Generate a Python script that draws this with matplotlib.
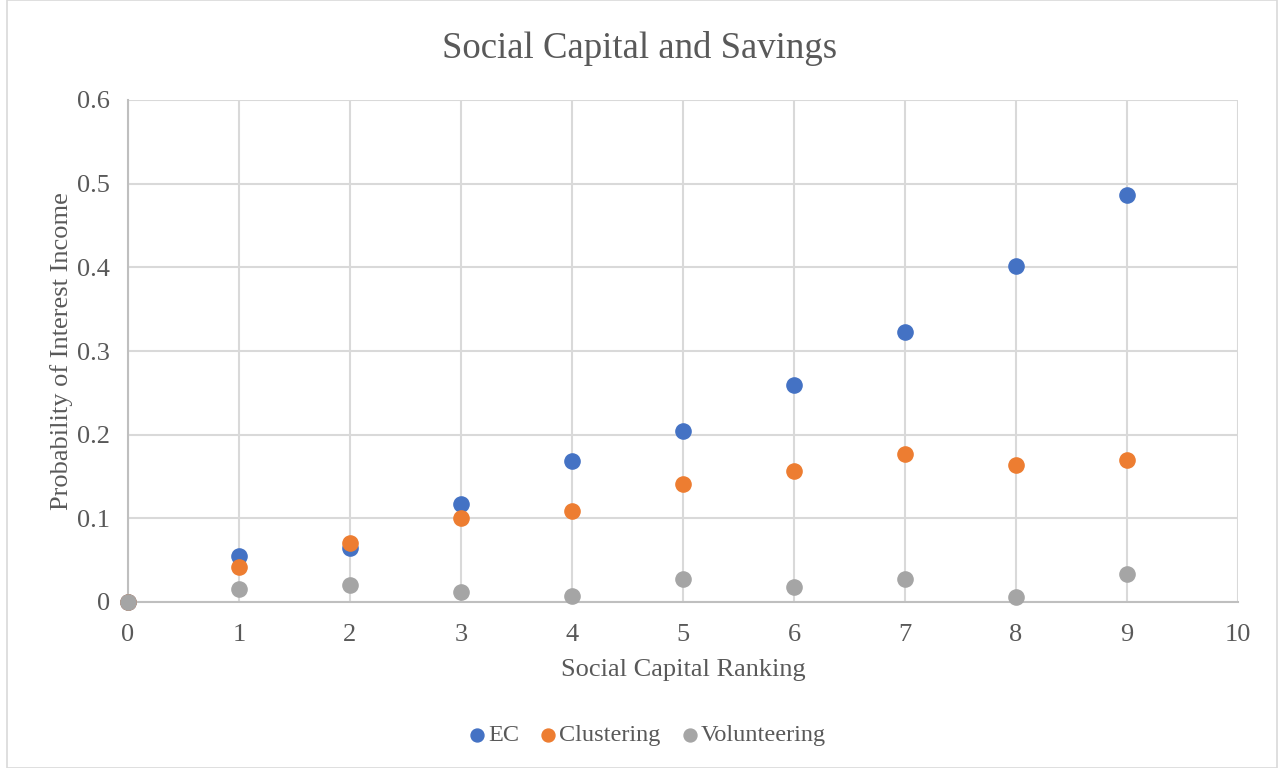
import matplotlib.pyplot as plt
from matplotlib.patches import Rectangle

plt.rcParams['font.family'] = ['Liberation Serif', 'DejaVu Serif']

# Social capital ranking (x) and probability of interest income per measure
ranking = [0, 1, 2, 3, 4, 5, 6, 7, 8, 9]
ec = [0, 0.055, 0.064, 0.117, 0.169, 0.204, 0.259, 0.323, 0.402, 0.486]
clustering = [0, 0.042, 0.071, 0.100, 0.109, 0.141, 0.157, 0.177, 0.164, 0.170]
volunteering = [0, 0.015, 0.020, 0.012, 0.007, 0.027, 0.018, 0.028, 0.006, 0.033]

fig = plt.figure(figsize=(12.79, 7.68), dpi=100)
ax = fig.add_axes([128 / 1279, 166 / 768, 1110 / 1279, 502 / 768])

# chart area border
fig.patches.append(Rectangle((7 / 1279, 0), 1270 / 1279, 1, transform=fig.transFigure,
                             fill=False, edgecolor='#d9d9d9', linewidth=1.2))

ax.scatter(ranking, ec, s=120, color='#4472c4', label='EC', zorder=3, clip_on=False)
ax.scatter(ranking, clustering, s=120, color='#ed7d31', label='Clustering', zorder=3, clip_on=False)
ax.scatter(ranking, volunteering, s=120, color='#a5a5a5', label='Volunteering', zorder=3, clip_on=False)

ax.set_xlim(0, 10)
ax.set_ylim(0, 0.6)
ax.set_xticks(range(0, 11))
ax.set_yticks([0, 0.1, 0.2, 0.3, 0.4, 0.5, 0.6])
ax.set_yticklabels(['0', '0.1', '0.2', '0.3', '0.4', '0.5', '0.6'])
ax.grid(True, color='#d9d9d9', linewidth=1.5)
ax.set_axisbelow(True)
for side in ['top', 'right']:
    ax.spines[side].set_visible(False)
for side in ['left', 'bottom']:
    ax.spines[side].set_color('#bfbfbf')
    ax.spines[side].set_linewidth(1.5)
ax.tick_params(length=0, labelsize=19, colors='#595959')
ax.tick_params(axis='x', pad=16)
ax.tick_params(axis='y', pad=13)

ax.set_xlabel('Social Capital Ranking', fontsize=19, color='#595959', labelpad=9)
ax.set_ylabel('Probability of Interest Income', fontsize=19, color='#595959', labelpad=3)
fig.text(0.5, 1 - 48 / 768, 'Social Capital and Savings', ha='center', va='center',
         fontsize=26.5, color='#595959')

fig.legend(loc='center', bbox_to_anchor=(0.5, 1 - 735 / 768), ncol=3, frameon=False,
           fontsize=17.5, labelcolor='#595959', handletextpad=-0.55, columnspacing=0.2,
           markerscale=0.85)

fig.savefig('out.png', dpi=100)
